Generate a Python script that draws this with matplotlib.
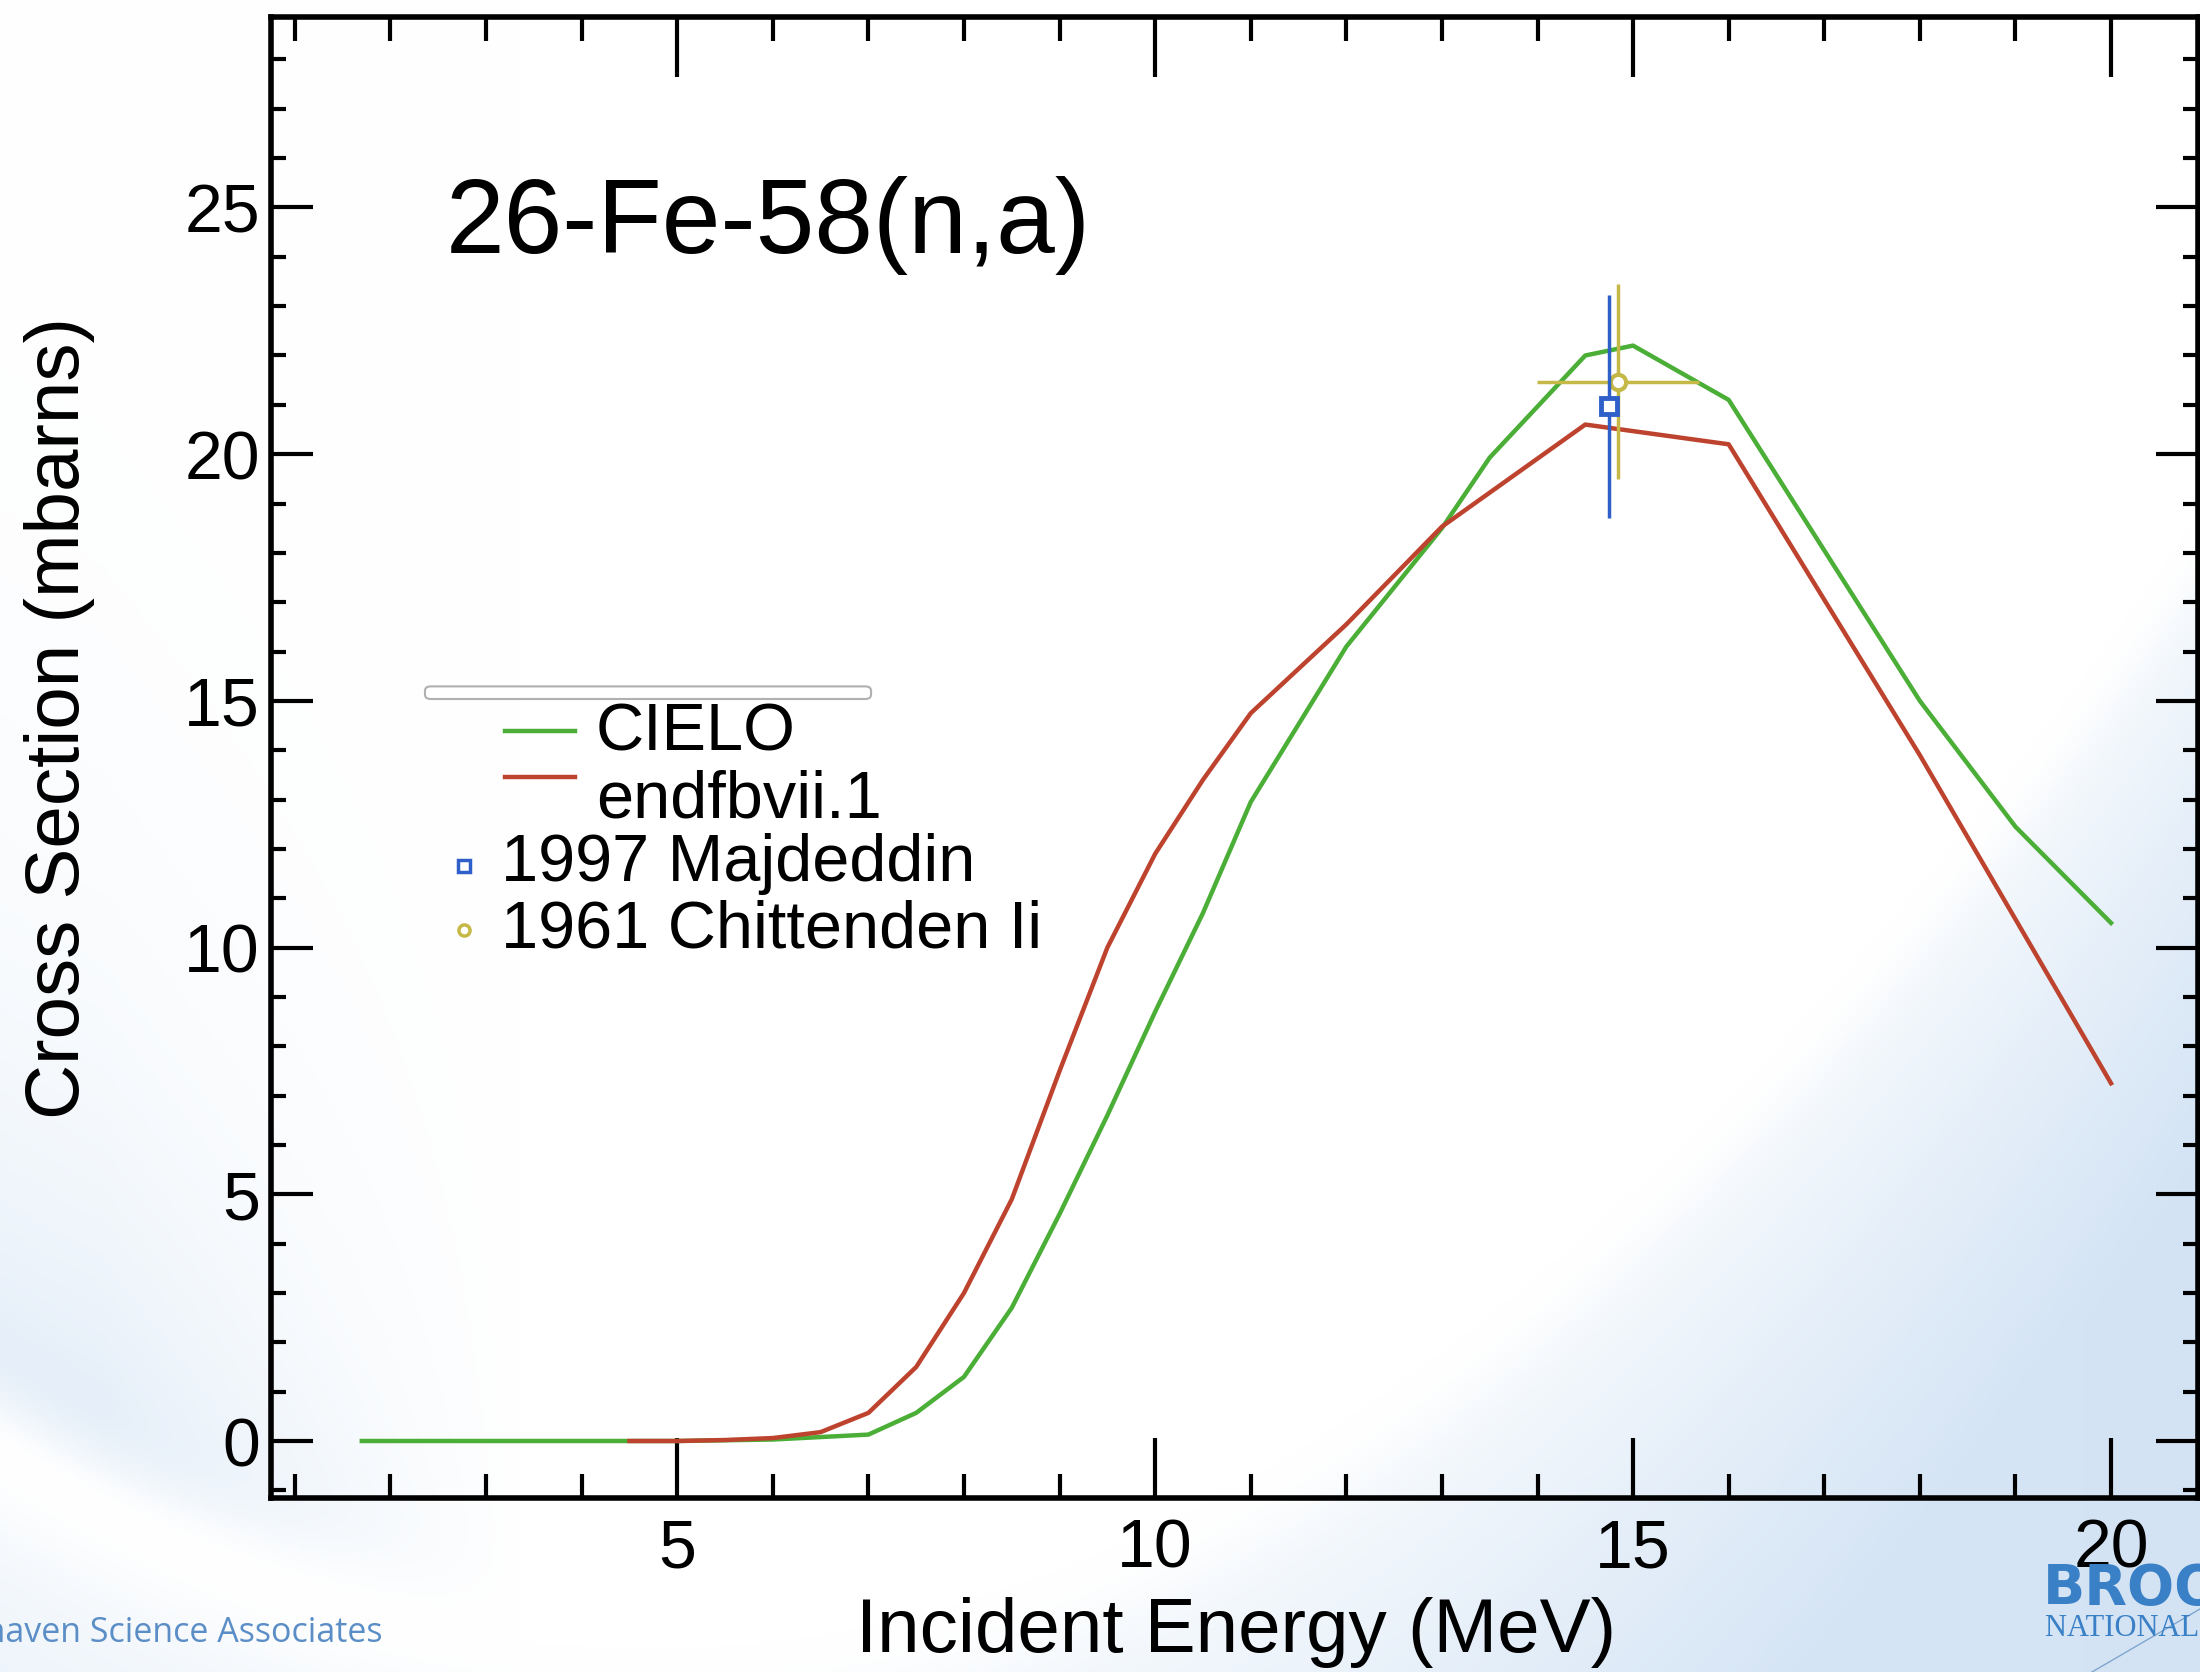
import numpy as np
import matplotlib
matplotlib.use("Agg")
import matplotlib.pyplot as plt
from matplotlib.patches import FancyBboxPatch

plt.rcParams["font.family"] = ["Liberation Sans", "DejaVu Sans"]

# CIELO evaluation (green)
cielo_e = [1.7, 3.0, 5.0, 6.0, 6.5, 7.0, 7.5, 8.0, 8.5, 9.0, 9.5, 10.0, 10.5,
           11.0, 12.0, 13.0, 13.5, 14.5, 15.0, 16.0, 18.0, 19.0, 20.0]
cielo_xs = [0.0, 0.0, 0.0, 0.03, 0.08, 0.13, 0.57, 1.3, 2.7, 4.6, 6.6, 8.7, 10.7,
            12.95, 16.1, 18.5, 19.93, 22.0, 22.2, 21.1, 15.0, 12.45, 10.5]

# ENDF/B-VII.1 evaluation (red)
endf_e = [4.5, 5.0, 5.5, 6.0, 6.5, 7.0, 7.5, 8.0, 8.5, 9.0, 9.5, 10.0, 10.5,
          11.0, 12.0, 13.0, 14.5, 16.0, 18.0, 20.0]
endf_xs = [0.0, 0.0, 0.02, 0.06, 0.18, 0.57, 1.5, 3.0, 4.9, 7.5, 10.0, 11.9, 13.4,
           14.75, 16.55, 18.53, 20.6, 20.2, 13.9, 7.25]

# experimental points
maj_e, maj_xs, maj_dxs = [14.75], [20.97], [2.26]
chit_e, chit_xs, chit_dxs, chit_de = [14.84], [21.47], [1.98], [0.85]

green = "#4aae37"
red = "#bd432e"
blue = "#2f5fc8"
olive = "#c6b846"

W, H = 2200, 1672
fig = plt.figure(figsize=(22, 16.72), dpi=100)

# slide background: pale blue swoosh with a soft white arc
px = np.linspace(0, W, 550)[None, :]
py = np.linspace(0, H, 418)[:, None]
yb = 1650 - 4.73e-4 * (px - 650) ** 2
w_out = np.clip((py - yb) / 650, 0, 1) ** 0.7 * (0.8 + 0.2 * px / W)
w_in = np.exp(-np.clip(yb - py, 0, None) / 300) * np.clip((520 - px) / 420, 0, 1) * 0.85
w_in = np.where(py < yb, w_in, 0)
w = np.maximum(w_out, w_in) * (1 - np.exp(-((py - yb) / 60) ** 2))
tint = np.array([0.83, 0.893, 0.96])
img = 1 - w[..., None] * (1 - tint[None, None, :])
bg = fig.add_axes([0, 0, 1, 1], zorder=0)
bg.imshow(img, extent=[0, 1, 0, 1], aspect="auto", origin="upper")
bg.set_xlim(0, 1)
bg.set_ylim(0, 1)
bg.axis("off")

fig.text(383 / W, 1 - 1642 / H, "Brookhaven Science Associates", ha="right",
         va="baseline", fontsize=24.5, color="#5b8ec6", family=["Open Sans", "DejaVu Sans"])
fig.text(2043 / W, 1 - 1604 / H, "BROOKHAVEN", ha="left", va="baseline",
         fontsize=40, fontweight="bold", color="#3a80c6", family=["DejaVu Sans"])
fig.text(2045 / W, 1 - 1636 / H, "NATIONAL LABORATORY", ha="left", va="baseline",
         fontsize=22, color="#3a80c6", family=["Liberation Serif", "DejaVu Serif"])
bg.plot([2092 / W, 1.0], [0, 63 / H], color="#7fa6cf", lw=1)

ax = fig.add_axes([0.12318, 0.10407, 0.87591, 0.88577], zorder=1)
ax.patch.set_alpha(0)

ax.plot(cielo_e, cielo_xs, color=green, lw=3.2, zorder=3)
ax.plot(endf_e, endf_xs, color=red, lw=3.2, zorder=3)
ax.errorbar(chit_e, chit_xs, yerr=chit_dxs, xerr=chit_de, fmt="o", color=olive,
            mfc="white", mec=olive, ms=11, mew=3, elinewidth=2.5, capsize=0, zorder=4)
ax.errorbar(maj_e, maj_xs, yerr=maj_dxs, fmt="s", color=blue,
            mfc="white", mec=blue, ms=11, mew=3.5, elinewidth=2.5, capsize=0, zorder=5)

ax.set_xlim(0.75, 20.91)
ax.set_ylim(-1.155, 28.86)
ax.set_xticks([5, 10, 15, 20])
ax.set_xticks(np.arange(1, 21), minor=True)
ax.set_yticks([0, 5, 10, 15, 20, 25])
ax.set_yticks(np.arange(-1, 29), minor=True)
ax.tick_params(axis="x", which="major", direction="in", length=43, width=3,
               top=True, pad=14, labelsize=49)
ax.tick_params(axis="x", which="minor", direction="in", length=17, width=3, top=True)
ax.tick_params(axis="y", which="major", direction="in", length=30, width=3,
               right=True, pad=8, labelsize=49)
ax.tick_params(axis="y", which="minor", direction="in", length=11, width=3, right=True)
for s in ax.spines.values():
    s.set_linewidth(4)

ax.set_xlabel("Incident Energy (MeV)", fontsize=55)
ax.xaxis.set_label_coords(0.501, -0.067)
ax.set_ylabel("Cross Section (mbarns)", fontsize=55)
ax.yaxis.set_label_coords(-0.0913, 0.527)

ax.text(0.0908, 0.859, "26-Fe-58(n,a)", transform=ax.transAxes, fontsize=76,
        va="center", ha="left")

# legend drawn by hand to match the layout
tr = ax.transAxes
ax.add_patch(FancyBboxPatch((0.0799, 0.5395), 0.2315, 0.0085,
                            boxstyle="round,pad=0,rounding_size=0.003",
                            transform=tr, fc="white", ec="#b0b0b0", lw=1.5, zorder=6))
ax.plot([0.1214, 0.1578], [0.5179, 0.5179], color=green, lw=3.2, transform=tr)
ax.text(0.1687, 0.5044, "CIELO", transform=tr, fontsize=48, va="baseline")
ax.plot([0.1214, 0.1578], [0.4869, 0.4869], color=red, lw=3.2, transform=tr)
ax.text(0.1687, 0.4598, "endfbvii.1", transform=tr, fontsize=48, va="baseline")
ax.plot([0.1002], [0.4267], "s", mfc="white", mec=blue, ms=8, mew=2.5, transform=tr)
ax.text(0.1194, 0.4166, "1997 Majdeddin", transform=tr, fontsize=48, va="baseline")
ax.plot([0.1002], [0.3835], "o", mfc="white", mec=olive, ms=8, mew=2.5, transform=tr)
ax.text(0.1194, 0.372, "1961 Chittenden Ii", transform=tr, fontsize=48, va="baseline")

fig.savefig("out.png", dpi=100)
